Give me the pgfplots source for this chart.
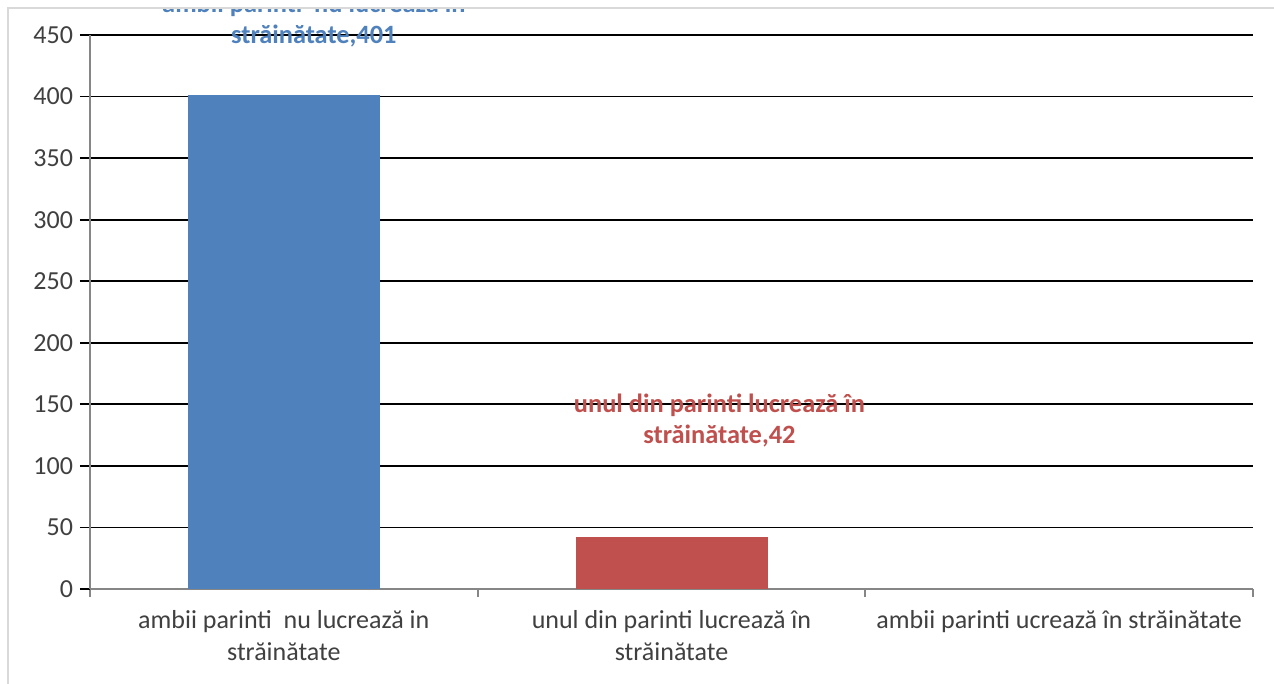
\documentclass[border=0pt]{standalone}
\usepackage{fontspec}
\setmainfont{Carlito}
\usepackage{pgfplots}
\pgfplotsset{compat=1.18}
\definecolor{cblue}{HTML}{4F81BD}
\definecolor{cred}{HTML}{C0504D}
\definecolor{txt}{HTML}{404040}
\definecolor{axgray}{HTML}{868686}
\begin{document}
\begin{tikzpicture}
\path[use as bounding box] (0,0) rectangle (637pt,342pt);
\fill[white] (0,0) rectangle (637pt,342pt);
\begin{scope}
\clip (4pt,0pt) rectangle (637pt,338pt);
\begin{axis}[
  at={(45pt,47.5pt)}, anchor=south west,
  scale only axis, width=581.5pt, height=277pt,
  xmin=-0.5, xmax=2.5, ymin=0, ymax=450,
  ytick={0,50,...,450},
  xtick={0,1,2},
  xticklabels={{ambii parinti \ nu lucrează in\\străinătate},{unul din parinti lucrează în\\străinătate},{ambii parinti ucrează în străinătate}},
  minor xtick={-0.5,0.5,1.5,2.5},
  x tick label style={align=center, font=\fontsize{13}{16}\selectfont, text=txt, anchor=north, yshift=-2pt},
  y tick label style={font=\fontsize{13}{15}\selectfont, text=txt},
  /pgf/number format/assume math mode=true,
  axis x line=bottom, axis y line=left,
  axis line style={-, axgray, line width=1pt},
  tick align=outside,
  major x tick style={draw=none},
  minor x tick style={axgray, line width=1pt},
  minor tick length=4pt,
  major tick length=5pt,
  y tick style={black, line width=0.9pt},
  ymajorgrids, grid style={black, line width=0.9pt},
  xmajorgrids=false,
  clip=false,
  bar width=96pt,
  nodes near coords style={font=\bfseries\fontsize{13.2}{15.5}\selectfont, align=center, anchor=center},
]
\addplot[ybar, bar shift=0pt, fill=cblue, draw=none,
  nodes near coords={ambii parinti \ nu lucrează in\\străinătate,\pgfmathprintnumber{\pgfplotspointmeta}},
  every node near coord/.append style={text=cblue, xshift=15pt, yshift=37.5pt}]
  coordinates {(0,401)};
\addplot[ybar, bar shift=0pt, fill=cred, draw=none,
  nodes near coords={unul din parinti lucrează în\\străinătate,\pgfmathprintnumber{\pgfplotspointmeta}},
  every node near coord/.append style={text=cred, xshift=24pt, yshift=58.5pt}]
  coordinates {(1,42)};
\end{axis}
\end{scope}
\draw[gray!30, line width=0.8pt] (4pt,0) -- (4pt,338pt) -- (637pt,338pt);
\end{tikzpicture}
\end{document}
